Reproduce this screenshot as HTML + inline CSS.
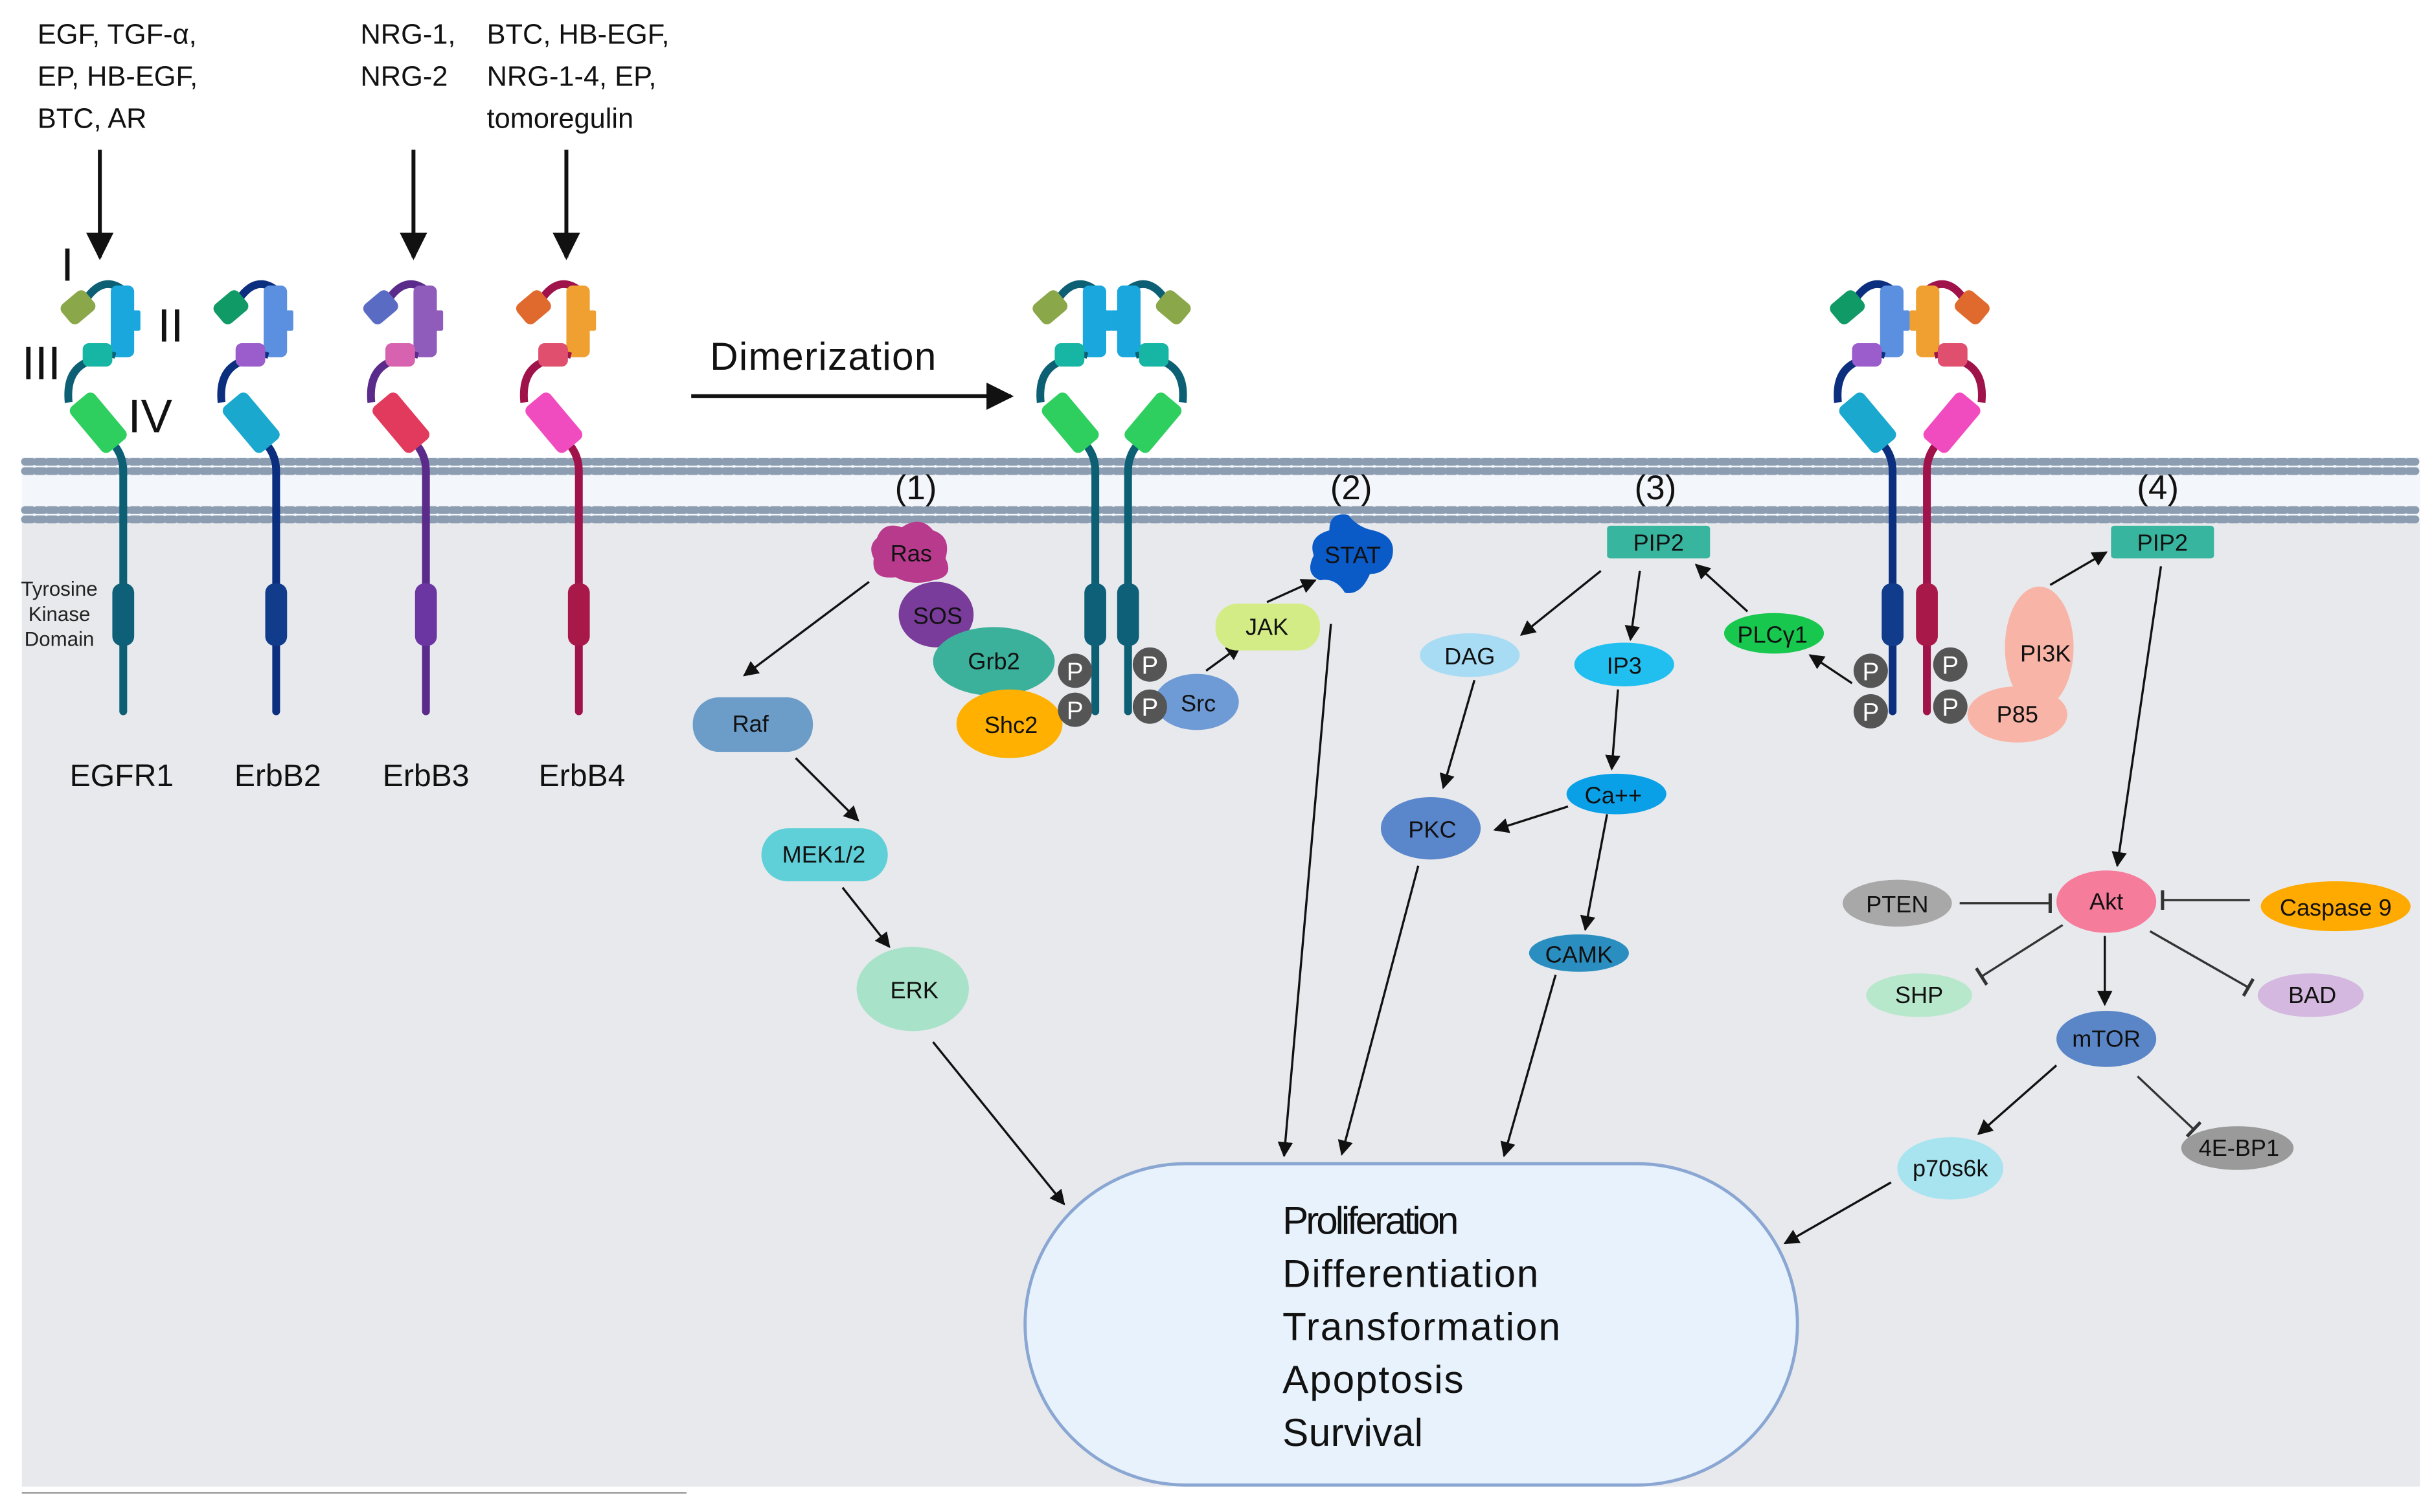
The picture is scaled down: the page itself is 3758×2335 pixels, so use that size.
<!DOCTYPE html>
<html><head><meta charset="utf-8"><style>
html,body{margin:0;padding:0;background:#fff;}
svg{display:block;}
text{font-family:"Liberation Sans",sans-serif;}
</style></head><body>
<svg width="3758" height="2335" viewBox="0 0 1560 969.3" preserveAspectRatio="none" xmlns="http://www.w3.org/2000/svg">
<defs>
<marker id="ah" viewBox="0 0 10 10" refX="9" refY="5" markerWidth="7" markerHeight="7" orient="auto-start-reverse"><path d="M0,0 L10,5 L0,10 z" fill="#111"/></marker>
<marker id="tb" viewBox="0 0 4 12" refX="2" refY="6" markerWidth="3" markerHeight="9" orient="auto"><rect x="1" y="0" width="2" height="12" fill="#333"/></marker>
<pattern id="mem" x="14" y="0" width="7.6" height="50" patternUnits="userSpaceOnUse">
<line x1="2" y1="297" x2="3" y2="313" stroke="#c5d2e3" stroke-width="0.8"/>
<line x1="5.5" y1="297" x2="4.5" y2="313" stroke="#c5d2e3" stroke-width="0.8"/>
</pattern>
<g id="mono">
<path d="M-23,192 Q-12,176 1,186" fill="none" stroke="var(--d)" stroke-width="5"/>
<rect x="-38" y="189" width="20" height="16" rx="4" fill="var(--c1)" transform="rotate(-40 -28 197)"/>
<rect x="-7" y="183" width="15" height="46" rx="4" fill="var(--c2)"/>
<rect x="7" y="199" width="5" height="13" rx="1" fill="var(--c2)"/>
<path d="M-22,232 Q-36,238 -34,258" fill="none" stroke="var(--d)" stroke-width="5"/>
<path d="M-4,228 L-12,226" stroke="var(--d)" stroke-width="4"/>
<rect x="-25" y="220" width="19" height="15" rx="4" fill="var(--c3)"/>
<path d="M-8,282 Q1,290 1,302 L1,456" fill="none" stroke="var(--d)" stroke-width="5" stroke-linecap="round"/>
<rect x="-25" y="252" width="20" height="38" rx="4" fill="var(--c4)" transform="rotate(-40 -15 271)"/>
<rect x="-6" y="374" width="14" height="40" rx="6" fill="var(--k)"/>
</g>
</defs>
<rect width="1560" height="970" fill="#fff"/>
<rect x="14" y="296" width="1537" height="657" fill="#e8e9ed"/>
<rect x="14" y="293" width="1537" height="42" fill="#f3f6fa"/>
<rect x="14" y="296" width="1537" height="40" fill="url(#mem)"/>
<g fill="none" stroke="#8c9db2" stroke-width="5" stroke-dasharray="4.5 3.1" stroke-linecap="round">
<line x1="16" y1="296" x2="1550" y2="296"/><line x1="16" y1="302" x2="1550" y2="302"/>
<line x1="16" y1="327" x2="1550" y2="327"/><line x1="16" y1="333" x2="1550" y2="333"/>
</g>
<line x1="14" y1="957" x2="440" y2="957" stroke="#999" stroke-width="1"/>

<g font-size="18" fill="#111">
<text x="24" y="28">EGF, TGF-α,</text><text x="24" y="55">EP, HB-EGF,</text><text x="24" y="82">BTC, AR</text>
<text x="231" y="28">NRG-1,</text><text x="231" y="55">NRG-2</text>
<text x="312" y="28">BTC, HB-EGF,</text><text x="312" y="55">NRG-1-4, EP,</text><text x="312" y="82">tomoregulin</text>
</g>
<g stroke="#111" stroke-width="2.5" marker-end="url(#ah)">
<line x1="64" y1="96" x2="64" y2="165"/><line x1="265" y1="96" x2="265" y2="165"/><line x1="363" y1="96" x2="363" y2="165"/>
<line x1="443" y1="254" x2="648" y2="254"/>
</g>
<text x="455" y="237" font-size="25" fill="#111" textLength="145">Dimerization</text>
<g font-size="30" fill="#111"><text x="39" y="180">I</text><text x="101" y="219">II</text><text x="14" y="243">III</text><text x="82" y="277">IV</text></g>

<use href="#mono" x="78" style="--d:#0d5f74;--c1:#8aa84a;--c2:#19a7dd;--c3:#17b5a4;--c4:#2ecf5f;--k:#0d6078"/>
<use href="#mono" x="176" style="--d:#0b2f7e;--c1:#109a66;--c2:#5b8fe0;--c3:#9b5ccc;--c4:#1aa8cf;--k:#113c8c"/>
<use href="#mono" x="272" style="--d:#5a2b8a;--c1:#5a6bc4;--c2:#8f5cbc;--c3:#d662b0;--c4:#e23a5c;--k:#6c36a2"/>
<use href="#mono" x="370" style="--d:#a0124a;--c1:#e06a2e;--c2:#f0a030;--c3:#e0506e;--c4:#f04cc0;--k:#a81848"/>
<use href="#mono" x="701" style="--d:#0d5f74;--c1:#8aa84a;--c2:#19a7dd;--c3:#17b5a4;--c4:#2ecf5f;--k:#0d6078"/>
<g transform="translate(1425 0) scale(-1 1)"><use href="#mono" x="701" style="--d:#0d5f74;--c1:#8aa84a;--c2:#19a7dd;--c3:#17b5a4;--c4:#2ecf5f;--k:#0d6078"/></g>
<use href="#mono" x="1212" style="--d:#0b2f7e;--c1:#109a66;--c2:#5b8fe0;--c3:#9b5ccc;--c4:#1aa8cf;--k:#113c8c"/>
<g transform="translate(2448 0) scale(-1 1)"><use href="#mono" x="1212" style="--d:#a0124a;--c1:#e06a2e;--c2:#f0a030;--c3:#e0506e;--c4:#f04cc0;--k:#a81848"/></g>

<g font-size="13" fill="#222" text-anchor="middle"><text x="38" y="382">Tyrosine</text><text x="38" y="398">Kinase</text><text x="38" y="414">Domain</text></g>
<g font-size="20" fill="#111" text-anchor="middle"><text x="78" y="504">EGFR1</text><text x="178" y="504">ErbB2</text><text x="273" y="504">ErbB3</text><text x="373" y="504">ErbB4</text></g>
<g font-size="22" fill="#111" text-anchor="middle"><text x="587" y="320">(1)</text><text x="866" y="320">(2)</text><text x="1061" y="320">(3)</text><text x="1383" y="320">(4)</text></g>

<rect x="657" y="746" width="495" height="206" rx="103" fill="#e7f2fc" stroke="#8aa6d2" stroke-width="2"/>
<g font-size="25" fill="#111"><text x="822" y="791" textLength="113">Proliferation</text><text x="822" y="825" textLength="164">Differentiation</text><text x="822" y="859" textLength="178">Transformation</text><text x="822" y="893" textLength="116">Apoptosis</text><text x="822" y="927" textLength="90">Survival</text></g>

<g stroke="#111" stroke-width="1.4" fill="none" marker-end="url(#ah)">
<line x1="557" y1="373" x2="477" y2="433"/><line x1="510" y1="486" x2="550" y2="526"/><line x1="540" y1="569" x2="570" y2="607"/>
<line x1="598" y1="668" x2="682" y2="772"/><line x1="853" y1="400" x2="823" y2="741"/>
<line x1="773" y1="430" x2="795" y2="414"/><line x1="812" y1="386" x2="843" y2="372"/>
<line x1="1026" y1="366" x2="975" y2="407"/><line x1="1051" y1="366" x2="1045" y2="410"/>
<line x1="1120" y1="392" x2="1087" y2="362"/><line x1="1187" y1="438" x2="1160" y2="420"/>
<line x1="945" y1="436" x2="925" y2="505"/><line x1="909" y1="555" x2="860" y2="740"/>
<line x1="1037" y1="442" x2="1033" y2="493"/><line x1="1005" y1="517" x2="958" y2="532"/>
<line x1="1030" y1="522" x2="1016" y2="596"/><line x1="997" y1="625" x2="964" y2="741"/>
<line x1="1314" y1="375" x2="1350" y2="354"/><line x1="1385" y1="363" x2="1357" y2="555"/>
<line x1="1349" y1="600" x2="1349" y2="644"/><line x1="1318" y1="683" x2="1268" y2="727"/>
<line x1="1212" y1="758" x2="1144" y2="797"/>
</g>
<g stroke="#333" stroke-width="1.4" marker-end="url(#tb)">
<line x1="1256" y1="579" x2="1314" y2="579"/><line x1="1442" y1="577" x2="1386" y2="577"/>
<line x1="1322" y1="593" x2="1270" y2="626"/><line x1="1378" y1="597" x2="1441" y2="633"/>
<line x1="1370" y1="690" x2="1406" y2="724"/>
</g>

<g font-size="15" fill="#111" text-anchor="middle">
<path d="M562,345 Q566,334 578,338 Q590,330 598,340 Q610,344 606,358 Q612,370 598,372 Q585,376 574,370 Q558,372 560,358 Q556,350 562,345z" fill="#b83a8d"/><text x="584" y="360">Ras</text>
<ellipse cx="600" cy="394" rx="24" ry="21" fill="#7a3c9a"/><text x="601" y="400">SOS</text>
<ellipse cx="637" cy="424" rx="39" ry="22" fill="#3bb19b"/><text x="637" y="429">Grb2</text>
<ellipse cx="647" cy="464" rx="34" ry="22" fill="#ffb000"/><text x="648" y="470">Shc2</text>
<ellipse cx="767" cy="450" rx="27" ry="18" fill="#6e9bd6"/><text x="768" y="456">Src</text>
<rect x="779" y="387" width="67" height="30" rx="14" fill="#d4ec86"/><text x="812" y="407">JAK</text>
<path d="M852,340 Q852,328 864,330 Q870,338 880,340 Q896,344 892,358 Q888,368 878,368 Q872,382 862,380 Q856,370 846,372 Q836,368 842,356 Q838,344 852,340z" fill="#0a5ac8"/><text x="867" y="361">STAT</text>
<rect x="444" y="447" width="77" height="35" rx="17" fill="#6c9cc8"/><text x="481" y="469">Raf</text>
<rect x="488" y="531" width="81" height="34" rx="17" fill="#5fd0d8"/><text x="528" y="553">MEK1/2</text>
<ellipse cx="585" cy="634" rx="36" ry="27" fill="#a8e2c8"/><text x="586" y="640">ERK</text>
<rect x="1030" y="337" width="66" height="21" rx="2" fill="#38b59f"/><text x="1063" y="353">PIP2</text>
<ellipse cx="942" cy="420" rx="32" ry="14" fill="#a8dcf4"/><text x="942" y="426">DAG</text>
<ellipse cx="1041" cy="426" rx="32" ry="14" fill="#21bff0"/><text x="1041" y="432">IP3</text>
<ellipse cx="1137" cy="406" rx="32" ry="13" fill="#18c84e"/><text x="1136" y="412">PLCγ1</text>
<ellipse cx="917" cy="531" rx="32" ry="20" fill="#5a86cc"/><text x="918" y="537">PKC</text>
<ellipse cx="1036" cy="509" rx="32" ry="13" fill="#0aa0e8"/><text x="1034" y="515">Ca++</text>
<ellipse cx="1012" cy="611" rx="32" ry="12" fill="#2a8fc0"/><text x="1012" y="617">CAMK</text>
<ellipse cx="1307" cy="415" rx="22" ry="39" fill="#f8b4a6"/><ellipse cx="1293" cy="458" rx="32" ry="18" fill="#f8b4a6"/>
<text x="1311" y="424">PI3K</text><text x="1293" y="463">P85</text>
<rect x="1353" y="337" width="66" height="21" rx="2" fill="#38b59f"/><text x="1386" y="353">PIP2</text>
<ellipse cx="1350" cy="578" rx="32" ry="20" fill="#f67c9c"/><text x="1350" y="583">Akt</text>
<ellipse cx="1216" cy="579" rx="35" ry="15" fill="#a8a8a8"/><text x="1216" y="585">PTEN</text>
<ellipse cx="1497" cy="581" rx="48" ry="16" fill="#ffaa00"/><text x="1497" y="587">Caspase 9</text>
<ellipse cx="1230" cy="638" rx="34" ry="14" fill="#b8e8cc"/><text x="1230" y="643">SHP</text>
<ellipse cx="1481" cy="638" rx="34" ry="14" fill="#d4b8e0"/><text x="1482" y="643">BAD</text>
<ellipse cx="1350" cy="666" rx="32" ry="18" fill="#5a86c8"/><text x="1350" y="671">mTOR</text>
<ellipse cx="1434" cy="736" rx="36" ry="14" fill="#9a9a9a"/><text x="1435" y="741">4E-BP1</text>
<ellipse cx="1250" cy="749" rx="34" ry="20" fill="#a8e4f0"/><text x="1250" y="754">p70s6k</text>
</g>
<g font-size="16" fill="#fff" text-anchor="middle">
<circle cx="689" cy="430" r="11" fill="#555"/><text x="689" y="436">P</text>
<circle cx="689" cy="455" r="11" fill="#555"/><text x="689" y="461">P</text>
<circle cx="737" cy="426" r="11" fill="#555"/><text x="737" y="432">P</text>
<circle cx="737" cy="453" r="11" fill="#555"/><text x="737" y="459">P</text>
<circle cx="1199" cy="430" r="11" fill="#555"/><text x="1199" y="436">P</text>
<circle cx="1199" cy="456" r="11" fill="#555"/><text x="1199" y="462">P</text>
<circle cx="1250" cy="426" r="11" fill="#555"/><text x="1250" y="432">P</text>
<circle cx="1250" cy="453" r="11" fill="#555"/><text x="1250" y="459">P</text>
</g>
</svg>
</body></html>
